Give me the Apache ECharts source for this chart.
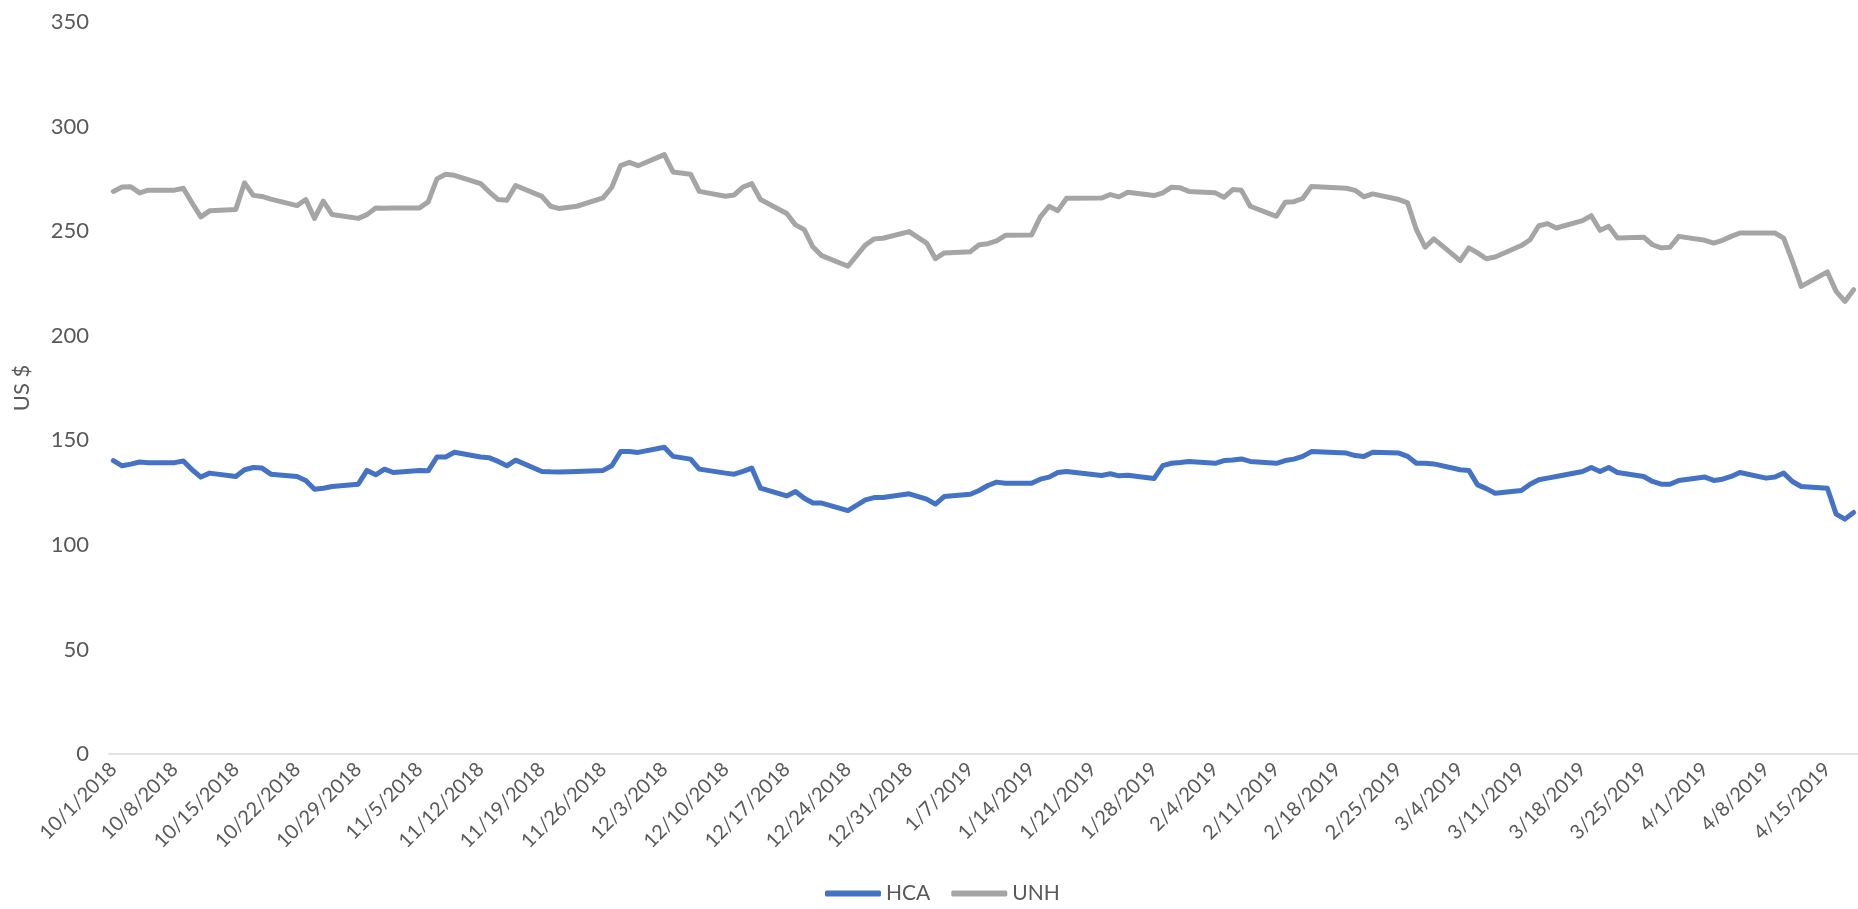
<!DOCTYPE html>
<html>
<head>
<meta charset="utf-8">
<title>HCA vs UNH</title>
<script src="https://cdn.jsdelivr.net/npm/echarts@6/dist/echarts.min.js"></script>
<style>
  html, body { margin: 0; padding: 0; background: #fff; }
  #chart { width: 1858px; height: 909px; }
</style>
</head>
<body>
<div id="chart"></div>
<script>
// trading days shown in the chart (weekends / holidays have no value)
var tradeDays = [
  '10/1/2018','10/2/2018','10/3/2018','10/4/2018','10/5/2018','10/8/2018','10/9/2018','10/10/2018','10/11/2018','10/12/2018',
  '10/15/2018','10/16/2018','10/17/2018','10/18/2018','10/19/2018','10/22/2018','10/23/2018','10/24/2018','10/25/2018','10/26/2018',
  '10/29/2018','10/30/2018','10/31/2018',
  '11/1/2018','11/2/2018','11/5/2018','11/6/2018','11/7/2018','11/8/2018','11/9/2018','11/12/2018','11/13/2018','11/14/2018',
  '11/15/2018','11/16/2018','11/19/2018','11/20/2018','11/21/2018','11/23/2018','11/26/2018','11/27/2018','11/28/2018','11/29/2018',
  '11/30/2018',
  '12/3/2018','12/4/2018','12/6/2018','12/7/2018','12/10/2018','12/11/2018','12/12/2018','12/13/2018','12/14/2018','12/17/2018',
  '12/18/2018','12/19/2018','12/20/2018','12/21/2018','12/24/2018','12/26/2018','12/27/2018','12/28/2018','12/31/2018',
  '1/2/2019','1/3/2019','1/4/2019','1/7/2019','1/8/2019','1/9/2019','1/10/2019','1/11/2019','1/14/2019','1/15/2019',
  '1/16/2019','1/17/2019','1/18/2019','1/22/2019','1/23/2019','1/24/2019','1/25/2019','1/28/2019','1/29/2019','1/30/2019',
  '1/31/2019',
  '2/1/2019','2/4/2019','2/5/2019','2/6/2019','2/7/2019','2/8/2019','2/11/2019','2/12/2019','2/13/2019','2/14/2019',
  '2/15/2019','2/19/2019','2/20/2019','2/21/2019','2/22/2019','2/25/2019','2/26/2019','2/27/2019','2/28/2019',
  '3/1/2019','3/4/2019','3/5/2019','3/6/2019','3/7/2019','3/8/2019','3/11/2019','3/12/2019','3/13/2019','3/14/2019',
  '3/15/2019','3/18/2019','3/19/2019','3/20/2019','3/21/2019','3/22/2019','3/25/2019','3/26/2019','3/27/2019','3/28/2019',
  '3/29/2019',
  '4/1/2019','4/2/2019','4/3/2019','4/4/2019','4/5/2019','4/8/2019','4/9/2019','4/10/2019','4/11/2019','4/12/2019',
  '4/15/2019','4/16/2019','4/17/2019','4/18/2019'
];

var hca = [
  140.3, 137.8, 138.6, 139.6, 139.3, 139.3, 140.1, 135.9, 132.4, 134.3,
  132.7, 135.9, 137.0, 136.7, 133.8, 132.7, 130.8, 126.6, 127.1, 127.9,
  129.0, 135.6, 133.5,
  136.2, 134.6, 135.6, 135.4, 142.0, 142.0, 144.3, 142.0, 141.6, 139.9,
  137.8, 140.5, 135.1, 134.9, 134.8, 135.1, 135.6, 137.8, 144.6, 144.6,
  144.2,
  146.7, 142.3, 141.0, 136.2, 134.3, 133.8, 135.1, 136.7, 127.1, 123.4,
  125.5, 122.3, 120.0, 120.0, 116.4, 121.5, 122.6, 122.6, 124.4,
  121.9, 119.5, 123.1, 124.2, 126.0, 128.4, 130.0, 129.5, 129.5, 131.4,
  132.4, 134.6, 135.1, 133.2, 134.0, 133.0, 133.3, 131.7, 137.9, 139.0,
  139.4,
  139.9, 139.0, 140.3, 140.6, 141.1, 139.9, 139.0, 140.3, 141.0, 142.3,
  144.6, 143.9, 142.7, 142.3, 144.3, 143.9, 142.3, 139.0, 139.0,
  138.7, 135.9, 135.6, 128.7, 126.9, 124.7, 126.0, 129.0, 131.1, 131.9,
  132.7, 135.1, 137.0, 135.1, 137.0, 134.6, 132.7, 130.3, 129.0, 129.0,
  130.8,
  132.4, 130.8, 131.4, 132.7, 134.6, 131.9, 132.4, 134.3, 130.3, 127.9,
  127.1, 114.7, 112.3, 115.5
];

var unh = [
  269.0, 271.1, 271.2, 268.3, 269.6, 269.6, 270.5, 263.5, 256.8, 259.7,
  260.4, 273.1, 267.1, 266.6, 265.3, 262.2, 265.1, 256.1, 264.3, 258.0,
  256.1, 257.9, 261.1,
  260.9, 261.1, 261.1, 264.0, 275.0, 277.2, 276.7, 272.7, 268.7, 265.1,
  264.8, 271.8, 266.6, 261.9, 260.8, 261.9, 265.9, 271.0, 281.3, 282.9,
  281.3,
  286.6, 278.3, 277.2, 269.0, 266.7, 267.3, 271.1, 272.7, 265.1, 258.4,
  253.0, 250.7, 242.4, 238.3, 233.2, 243.4, 246.3, 246.6, 249.8,
  244.3, 236.8, 239.6, 240.2, 243.5, 244.0, 245.3, 248.0, 248.2, 256.8,
  261.9, 259.8, 265.7, 265.8, 267.5, 266.4, 268.6, 267.0, 268.3, 271.0,
  270.7,
  269.0, 268.3, 266.2, 269.9, 269.5, 261.9, 257.1, 263.8, 264.1, 265.6,
  271.4, 270.5, 269.5, 266.4, 267.8, 265.1, 263.5, 250.7, 242.3,
  246.3, 235.9, 242.0, 239.6, 236.8, 237.6, 243.1, 245.9, 252.6, 253.6,
  251.5, 255.0, 257.4, 250.4, 252.3, 246.7, 247.1, 243.5, 242.0, 242.3,
  247.5,
  245.6, 244.3, 245.6, 247.5, 249.1, 249.1, 249.1, 246.7, 235.6, 223.6,
  230.5, 221.2, 216.4, 222.0
];

var seriesNames = ['HCA', 'UNH'];
var seriesColors = ['#4472C4', '#A5A5A5'];
var yTicks = [0, 50, 100, 150, 200, 250, 300, 350];

// date axis: one slot per calendar day, like the Excel date axis
var firstDay = Date.UTC(2018, 9, 1);
var lastDay = Date.UTC(2019, 3, 18);
var calendar = [];
for (var t = firstDay; t <= lastDay; t += 86400000) {
  var dt = new Date(t);
  calendar.push((dt.getUTCMonth() + 1) + '/' + dt.getUTCDate() + '/' + dt.getUTCFullYear());
}

function onCalendar(values) {
  var lookup = {};
  tradeDays.forEach(function (d, i) { lookup[d] = values[i]; });
  return calendar.map(function (d) { return d in lookup ? lookup[d] : null; });
}

var font = 'Lato, "Open Sans", sans-serif';
var textColor = '#595959';

var myChart = echarts.init(document.getElementById('chart'));
var option = {
  animation: false,
  textStyle: { fontFamily: font },
  grid: { left: 109, right: 0, top: 22, bottom: 155 },
  legend: {
    data: seriesNames,
    left: 820,
    top: 878,
    icon: 'roundRect',
    itemWidth: 56,
    itemHeight: 6,
    itemGap: 21,
    textStyle: { fontSize: 21, color: textColor, fontFamily: font }
  },
  xAxis: {
    type: 'category',
    data: calendar,
    boundaryGap: true,
    axisLine: { lineStyle: { color: '#d9d9d9', width: 1.5 } },
    axisTick: { interval: 6, length: 6, lineStyle: { color: '#d9d9d9', width: 1.5 } },
    axisLabel: {
      interval: 6,
      rotate: 45,
      margin: 12,
      fontSize: 20,
      color: textColor,
      fontFamily: font
    }
  },
  yAxis: {
    type: 'value',
    min: yTicks[0],
    max: yTicks[yTicks.length - 1],
    interval: 50,
    name: 'US $',
    nameLocation: 'middle',
    nameGap: 76,
    nameTextStyle: { fontSize: 22, color: textColor, fontFamily: font },
    splitLine: { show: false },
    axisLine: { show: false },
    axisTick: { show: false },
    axisLabel: { fontSize: 22, color: textColor, margin: 20, fontFamily: font }
  },
  series: [
    {
      name: seriesNames[0],
      type: 'line',
      data: onCalendar(hca),
      connectNulls: true,
      showSymbol: false,
      symbol: 'none',
      color: seriesColors[0],
      lineStyle: { width: 5, color: seriesColors[0], cap: 'round', join: 'round' }
    },
    {
      name: seriesNames[1],
      type: 'line',
      data: onCalendar(unh),
      connectNulls: true,
      showSymbol: false,
      symbol: 'none',
      color: seriesColors[1],
      lineStyle: { width: 5, color: seriesColors[1], cap: 'round', join: 'round' }
    }
  ]
};
myChart.setOption(option);
</script>
</body>
</html>
